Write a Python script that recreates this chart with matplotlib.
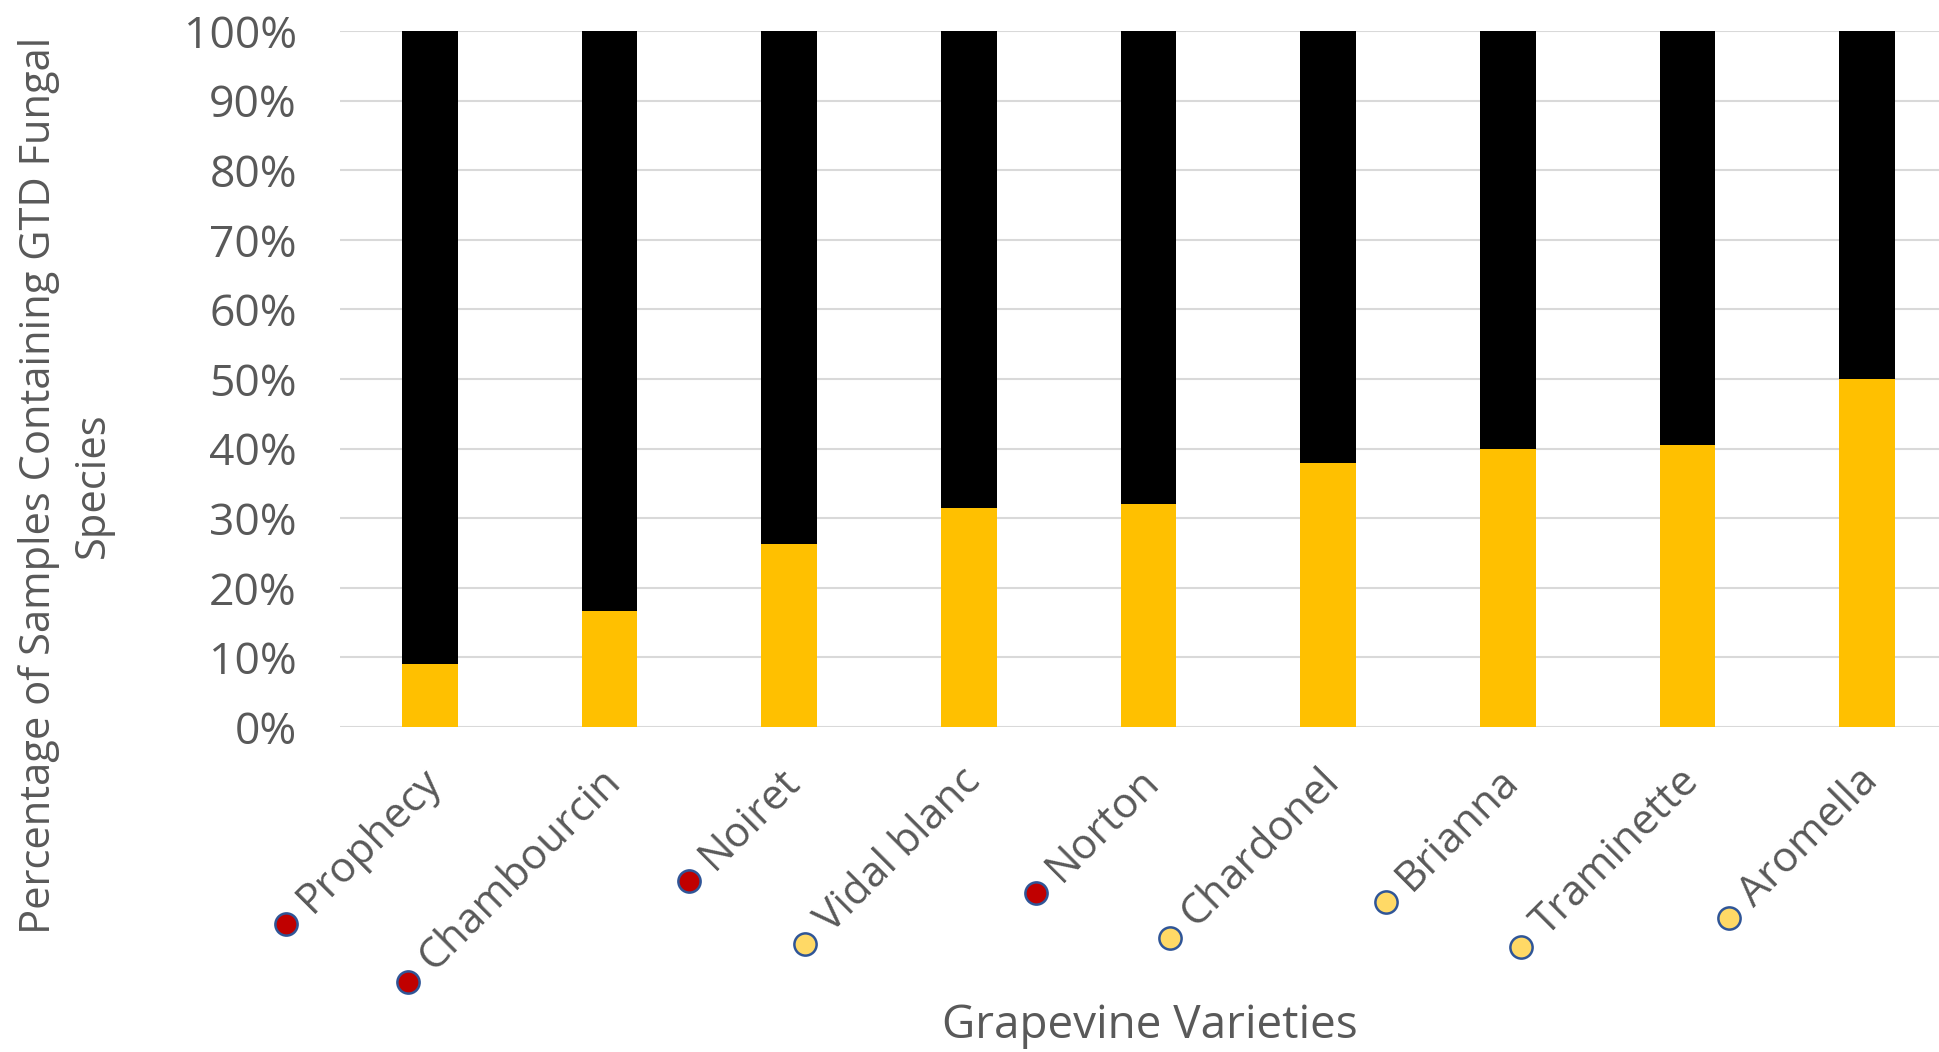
import numpy as np
import matplotlib.pyplot as plt
import matplotlib.transforms as mtrans
from matplotlib import font_manager

# data (percent of samples)
varieties   = ['Prophecy', 'Chambourcin', 'Noiret', 'Vidal blanc', 'Norton',
               'Chardonel', 'Brianna', 'Traminette', 'Aromella']
with_gtd    = [9.1, 16.7, 26.3, 31.4, 32.0, 37.9, 40.0, 40.5, 50.0]
without_gtd = [90.9, 83.3, 73.7, 68.6, 68.0, 62.1, 60.0, 59.5, 50.0]
berry_type  = ['red', 'red', 'red', 'white', 'red', 'white', 'white', 'white', 'white']
y_ticks     = list(range(0, 101, 10))

berry_col = {'red': '#C00000', 'white': '#FFD966'}
grey      = '#595959'

names = {f.name for f in font_manager.fontManager.ttflist}
narrow = 'Liberation Sans Narrow' if 'Liberation Sans Narrow' in names else 'Open Sans'

plt.rcParams['font.family'] = ['Open Sans', 'DejaVu Sans']

W, H = 1939, 1052
fig = plt.figure(figsize=(W / 100, H / 100), dpi=100)
ax = fig.add_axes([340 / W, 1 - 727 / H, (1957 - 340) / W, (727 - 31) / H])

x = np.arange(len(varieties))
ax.bar(x, with_gtd, 0.31, color='#FFC000', zorder=2)
ax.bar(x, without_gtd, 0.31, bottom=with_gtd, color='black', zorder=2)

ax.set_xlim(-0.5, len(varieties) - 0.5)
ax.set_ylim(0, 100)
ax.set_yticks(y_ticks, [f'{v}%' for v in y_ticks])
ax.yaxis.grid(True, color='#D9D9D9', lw=1.5, zorder=0)
ax.set_axisbelow(True)
for s in ax.spines.values():
    s.set_visible(False)
ax.tick_params(axis='y', length=0, pad=31, labelsize=32, labelcolor=grey)
ax.set_xticks(x, [])
ax.tick_params(axis='x', length=0)

# rotated category labels, end of text at the tick
off = mtrans.ScaledTranslation(5 / 100, -48 / 100, fig.dpi_scale_trans)
labels = []
for xi, name in zip(x, varieties):
    t = ax.text(xi, 0, name, transform=ax.get_xaxis_transform() + off,
                rotation=45, rotation_mode='anchor', ha='right', va='center',
                fontsize=30.5, color=grey)
    labels.append(t)

fig.text(1150 / W, 1 - 1026 / H, 'Grapevine Varieties', ha='center', va='center',
         fontsize=33, color=grey)
fig.text(66 / W, 1 - 485 / H, 'Percentage of Samples Containing GTD Fungal\nSpecies',
         rotation=90, ha='center', va='center', fontsize=30, color=grey,
         family=[narrow, 'DejaVu Sans'], linespacing=1.35)

# berry colour dots at the start of each label
fig.canvas.draw()
r = fig.canvas.get_renderer()
c45 = np.cos(np.radians(45))
for t, b in zip(labels, berry_type):
    bb = t.get_window_extent(r)
    cx, cy = (bb.x0 + bb.x1) / 2, (bb.y0 + bb.y1) / 2
    t.set_rotation(0)
    w = t.get_window_extent(r).width
    t.set_rotation(45)
    d = w / 2 + 25
    px, py = fig.transFigure.inverted().transform((cx - d * c45, cy - d * c45))
    fig.add_artist(plt.Line2D([px], [py], marker='o', ms=16, mfc=berry_col[b],
                              mec='#2F5597', mew=1.8, transform=fig.transFigure))

fig.savefig('out.png', dpi=100)
